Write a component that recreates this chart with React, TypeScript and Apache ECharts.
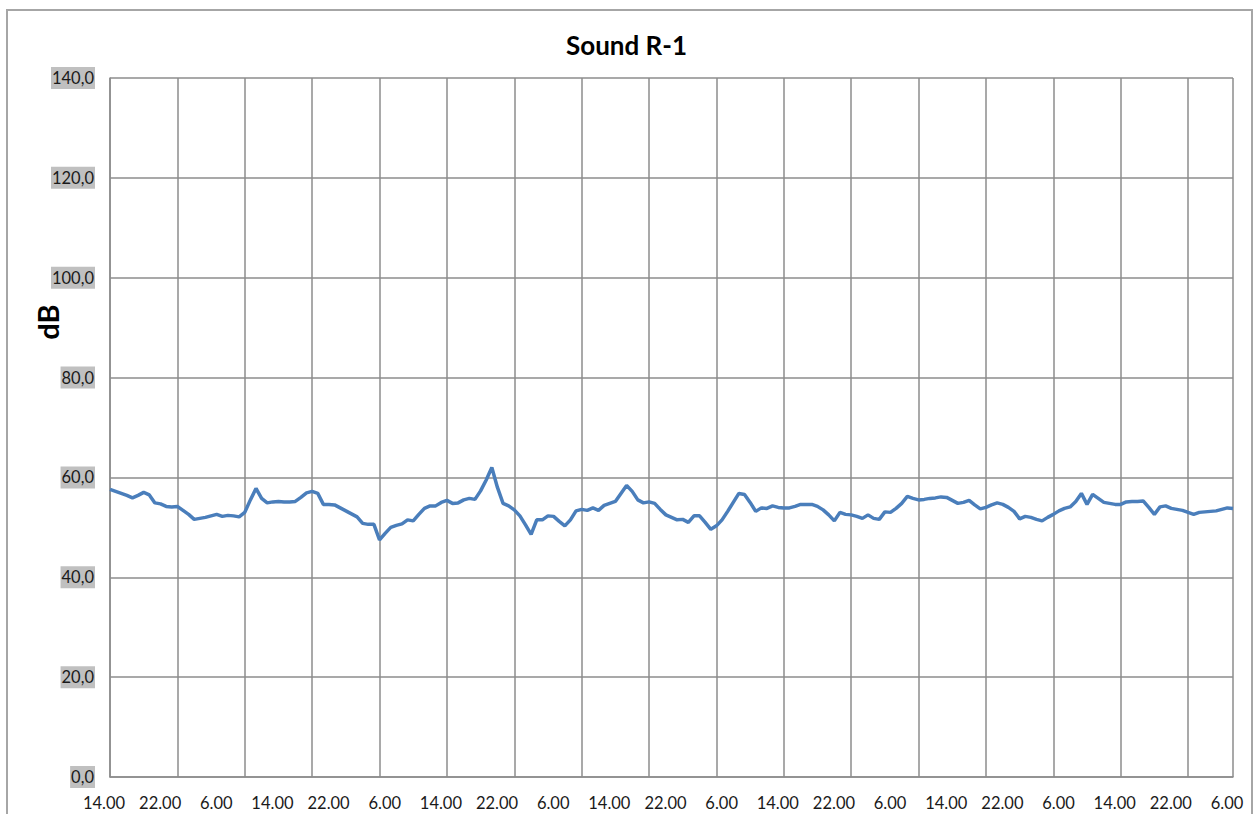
import React, { useEffect, useRef } from "react";
import * as echarts from "echarts";

// Time axis: readings every 48 minutes starting at 14.00
const startMinutes = 14 * 60;
const stepMinutes = 48;

const soundValues = [
  57.6, 57.2, 56.8, 56.4, 55.9, 56.4, 57.0, 56.5, 54.9, 54.7,
  54.2, 54.1, 54.2, 53.4, 52.6, 51.6, 51.8, 52.0, 52.3, 52.6,
  52.2, 52.4, 52.3, 52.1, 53.0, 55.5, 57.8, 55.8, 54.9, 55.1,
  55.2, 55.1, 55.1, 55.2, 56.0, 56.9, 57.2, 56.8, 54.6, 54.6,
  54.5, 53.9, 53.3, 52.7, 52.1, 50.8, 50.6, 50.6, 47.5, 48.8,
  50.0, 50.4, 50.7, 51.5, 51.3, 52.6, 53.8, 54.3, 54.3, 55.0,
  55.4, 54.8, 54.9, 55.5, 55.8, 55.6, 57.3, 59.5, 62.0, 58.0,
  54.8, 54.3, 53.5, 52.3, 50.5, 48.6, 51.5, 51.5, 52.3, 52.2,
  51.2, 50.3, 51.5, 53.3, 53.6, 53.4, 53.9, 53.4, 54.4, 54.8,
  55.2, 56.8, 58.4, 57.2, 55.5, 54.9, 55.1, 54.8, 53.6, 52.5,
  52.0, 51.5, 51.6, 51.0, 52.3, 52.3, 51.0, 49.6, 50.3, 51.5,
  53.2, 55.0, 56.8, 56.6, 55.0, 53.2, 53.9, 53.8, 54.3, 54.0,
  53.9, 53.9, 54.2, 54.6, 54.6, 54.6, 54.2, 53.5, 52.5, 51.3,
  53.0, 52.6, 52.5, 52.2, 51.8, 52.5, 51.8, 51.6, 53.1, 53.0,
  53.8, 54.8, 56.2, 55.8, 55.5, 55.6, 55.8, 55.9, 56.1, 56.0,
  55.4, 54.8, 55.0, 55.4, 54.5, 53.7, 54.0, 54.5, 54.9, 54.6,
  54.0, 53.2, 51.7, 52.2, 52.0, 51.6, 51.3, 52.0, 52.6, 53.3,
  53.8, 54.1, 55.2, 56.8, 54.6, 56.6, 55.8, 55.0, 54.8, 54.6,
  54.6, 55.1, 55.2, 55.2, 55.3, 54.0, 52.6, 54.1, 54.3, 53.8,
  53.6, 53.4, 53.0, 52.6, 53.0, 53.1, 53.2, 53.3, 53.6, 53.9,
  53.8,
];

const categories = soundValues.map((_, i) => {
  const m = (startMinutes + i * stepMinutes) % (24 * 60);
  const h = Math.floor(m / 60);
  const mm = m % 60;
  return `${h}.${mm < 10 ? "0" + mm : mm}`;
});

const yTicks = { min: 0, max: 140, interval: 20 };

const FONT = "Lato, 'Open Sans', sans-serif";

export default function App() {
  const ref = useRef<HTMLDivElement>(null);
  useEffect(() => {
    if (!ref.current) return;
    const chart = echarts.init(ref.current, undefined, { renderer: "svg" });
    chart.setOption({
      animation: false,
      backgroundColor: "#ffffff",
      title: {
        text: "Sound R-1",
        left: "center",
        top: 27,
        textStyle: { fontFamily: FONT, fontSize: 26, fontWeight: "bold", color: "#000" },
      },
      graphic: [
        {
          type: "rect",
          shape: { x: 7, y: 10, width: 1245, height: 830 },
          style: { fill: "none", stroke: "#a6a6a6", lineWidth: 2 },
          silent: true,
        },
        {
          type: "text",
          x: 47,
          y: 322,
          rotation: Math.PI / 2,
          style: {
            text: "dB",
            fontFamily: FONT,
            fontSize: 29,
            fontWeight: "bold",
            fill: "#000",
            textAlign: "center",
            textVerticalAlign: "middle",
          },
        },
      ],
      grid: { left: 110, right: 20, top: 78, bottom: 37, containLabel: false },
      xAxis: {
        type: "category",
        data: categories,
        boundaryGap: false,
        axisLine: { show: true, lineStyle: { color: "#8c8c8c", width: 1.5 } },
        axisTick: { show: false, interval: 11 },
        axisLabel: {
          interval: 9,
          showMaxLabel: true,
          margin: 17,
          fontFamily: FONT,
          fontSize: 16.5,
          color: "#1a1a1a",
          padding: [0, 12, 0, 0],
        },
        splitLine: { show: true, interval: 11, lineStyle: { color: "#8c8c8c", width: 1.5 } },
      },
      yAxis: {
        type: "value",
        min: yTicks.min,
        max: yTicks.max,
        interval: yTicks.interval,
        axisLine: { show: true, lineStyle: { color: "#8c8c8c", width: 1.5 } },
        axisTick: { show: false },
        axisLabel: {
          margin: 15,
          fontFamily: FONT,
          fontSize: 16.5,
          color: "#1a1a1a",
          backgroundColor: "#c0c0c0",
          padding: [3, 1, 2, 1],
          formatter: (v: number) => v.toFixed(1).replace(".", ","),
        },
        splitLine: { show: true, lineStyle: { color: "#8c8c8c", width: 1.5 } },
      },
      series: [
        {
          type: "line",
          data: soundValues,
          showSymbol: false,
          smooth: false,
          lineStyle: { color: "#4a7ebb", width: 3.5 },
          itemStyle: { color: "#4a7ebb" },
        },
      ],
    });
    return () => chart.dispose();
  }, []);
  return (
    <div
      ref={ref}
      style={{ position: "fixed", left: 0, top: 0, width: 1253, height: 814 }}
    />
  );
}
